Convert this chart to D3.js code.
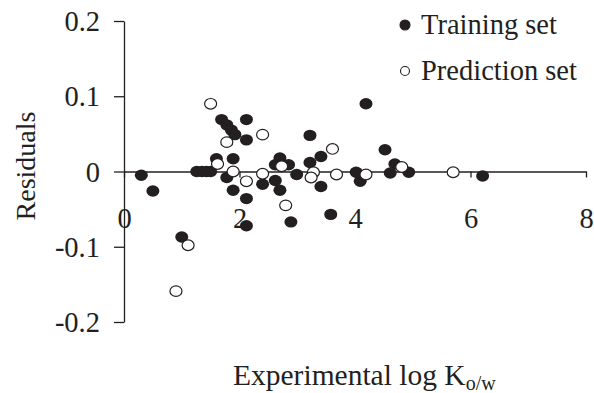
<!DOCTYPE html>
<html>
<head>
<meta charset="utf-8">
<script src="https://cdn.jsdelivr.net/npm/d3@7"></script>
<style>
  body { margin: 0; background: #fff; }
  svg { display: block; }
  text { font-family: "Liberation Serif", "Times New Roman", serif; fill: #231f20; }
</style>
</head>
<body>
<div id="chart"></div>
<script>
// residuals: [experimental log Kow, residual]
var trainingSet = [
  [0.30, -0.005], [0.50, -0.026], [1.00, -0.087], [1.26, 0.000], [1.35, 0.000],
  [1.43, 0.000], [1.50, 0.000], [1.60, 0.017], [1.69, 0.069], [1.78, 0.062],
  [1.86, 0.055], [1.92, 0.049], [2.12, 0.069], [2.12, 0.042], [1.89, 0.017],
  [1.78, -0.008], [1.89, -0.025], [2.12, -0.036], [2.12, -0.072], [2.40, -0.017],
  [2.62, 0.009], [2.70, 0.018], [2.85, 0.009], [2.62, -0.012], [2.70, -0.025],
  [2.89, -0.067], [2.99, -0.004], [3.22, 0.048], [3.22, 0.012], [3.41, 0.020],
  [3.41, -0.020], [3.58, -0.057], [4.02, -0.001], [4.09, -0.013], [4.19, 0.090],
  [4.52, 0.029], [4.69, 0.010], [4.61, -0.002], [4.93, -0.001], [6.21, -0.006]
];
var predictionSet = [
  [0.90, -0.159], [1.11, -0.098], [1.50, 0.090], [1.78, 0.039], [1.62, 0.010],
  [1.89, 0.000], [2.12, -0.013], [2.40, 0.049], [2.40, -0.003], [2.73, 0.007],
  [2.80, -0.045], [3.28, -0.001], [3.24, -0.008], [3.61, 0.030], [3.68, -0.004],
  [4.19, -0.004], [4.81, 0.006], [5.70, -0.001]
];
var xTicks = [0, 2, 4, 6, 8];
var yTicks = [-0.2, -0.1, 0, 0.1, 0.2];
var legendLabels = ["Training set", "Prediction set"];

var width = 594, height = 393;
var x = d3.scaleLinear().domain([0, 8]).range([124, 586]);
var y = d3.scaleLinear().domain([-0.2, 0.2]).range([322, 21]);

var svg = d3.select("#chart").append("svg")
  .attr("width", width)
  .attr("height", height);

svg.append("rect").attr("width", width).attr("height", height).attr("fill", "#fff");

// x axis sits on y = 0, labels hang well below it
var xAxis = svg.append("g")
  .attr("class", "x axis")
  .attr("transform", `translate(0,${y(0)})`)
  .call(d3.axisBottom(x).tickValues(xTicks).tickSize(6).tickSizeOuter(0).tickFormat(d3.format("d")));
xAxis.selectAll("text")
  .attr("y", 56).attr("dy", 0);

var yAxis = svg.append("g")
  .attr("class", "y axis")
  .attr("transform", `translate(${x(0)},0)`)
  .call(d3.axisLeft(y).tickValues(yTicks).tickSize(10).tickSizeOuter(0)
    .tickFormat(function (d) { return d === 0 ? "0" : d.toFixed(1); }));
yAxis.selectAll("text")
  .attr("x", -24).attr("dy", "0.34em");

svg.selectAll(".axis")
  .attr("font-family", null).attr("font-size", null)
  .style("font-family", "'Liberation Serif', serif")
  .style("font-size", "28.5px");
svg.selectAll(".axis path, .axis line").attr("stroke", "#231f20").attr("stroke-width", 1.3);
svg.selectAll(".axis text").attr("fill", "#231f20");

// points
svg.append("g")
  .selectAll("ellipse")
  .data(trainingSet)
  .join("ellipse")
    .attr("cx", d => x(d[0]))
    .attr("cy", d => y(d[1]))
    .attr("rx", 6.5)
    .attr("ry", 5.7)
    .attr("fill", "#231f20");

svg.append("g")
  .selectAll("ellipse")
  .data(predictionSet)
  .join("ellipse")
    .attr("cx", d => x(d[0]))
    .attr("cy", d => y(d[1]))
    .attr("rx", 6)
    .attr("ry", 5.3)
    .attr("fill", "#fff")
    .attr("stroke", "#231f20")
    .attr("stroke-width", 1.2);

// legend
var legend = svg.append("g");
legendLabels.forEach(function (label, i) {
  var ly = 25 + i * 46;
  legend.append("circle")
    .attr("cx", 405).attr("cy", ly)
    .attr("r", i === 0 ? 5 : 4.5)
    .attr("fill", i === 0 ? "#231f20" : "#fff")
    .attr("stroke", "#231f20")
    .attr("stroke-width", 1.1);
  legend.append("text")
    .attr("x", 421).attr("y", ly + 9)
    .style("font-size", "28.5px")
    .text(label);
});

// axis titles
svg.append("text")
  .attr("transform", "rotate(-90)")
  .attr("x", -166)
  .attr("y", 35)
  .attr("text-anchor", "middle")
  .style("font-size", "28px")
  .text("Residuals");

var xt = svg.append("text")
  .attr("x", 233)
  .attr("y", 385)
  .style("font-size", "29.5px");
xt.append("tspan").text("Experimental log K");
xt.append("tspan").attr("dy", 5).style("font-size", "20px").text("o/w");
</script>
</body>
</html>
